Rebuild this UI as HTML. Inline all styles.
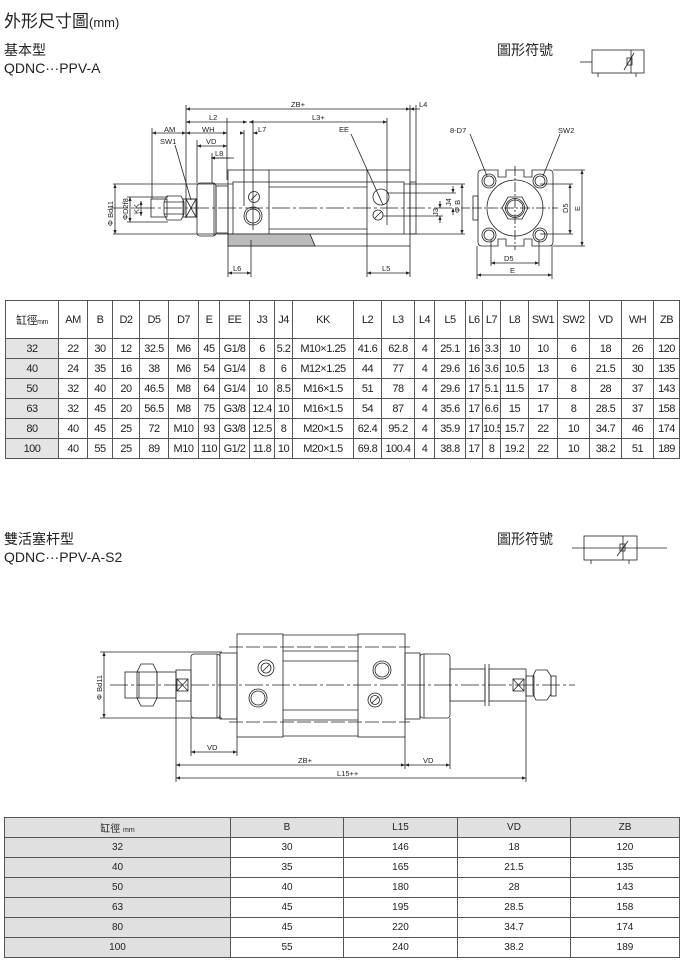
<!DOCTYPE html>
<html><head><meta charset="utf-8">
<style>
html,body{margin:0;padding:0;background:#fff;}
body{width:684px;height:962px;position:relative;overflow:hidden;font-family:"Liberation Sans","Noto Sans CJK TC",sans-serif;color:#222;}
.t{position:absolute;white-space:nowrap;}
table{position:absolute;border-collapse:collapse;font-size:11px;table-layout:fixed;}
td{border:1px solid #555;text-align:center;padding:0;color:#222;overflow:hidden;white-space:nowrap;}
#t1{left:5px;top:300px;width:674px;letter-spacing:-0.5px;}
#t1 td{height:19px;}
#t1 tr.h td{height:37px;}
#t1 td.c{background:#e4e4e4;}
#t2{left:4px;top:817px;width:675px;font-size:10px;}
#t2 td{height:19px;}
#t2 tr.h td{background:#e0e0e0;}
#t2 td.c{background:#e0e0e0;}
svg{position:absolute;left:0;top:0;}
</style></head><body>
<div class="t" style="left:4px;top:7px;font-size:17px;">外形尺寸圖<span style="font-size:13px">(mm)</span></div>
<div class="t" style="left:4px;top:40px;font-size:14px;">基本型</div>
<div class="t" style="left:4px;top:60px;font-size:14px;">QDNC···PPV-A</div>
<div class="t" style="left:497px;top:40px;font-size:14px;">圖形符號</div>
<div class="t" style="left:4px;top:529px;font-size:14px;">雙活塞杆型</div>
<div class="t" style="left:4px;top:549px;font-size:14px;">QDNC···PPV-A-S2</div>
<div class="t" style="left:497px;top:529px;font-size:14px;">圖形符號</div>

<svg width="684" height="962" viewBox="0 0 684 962" font-family="Liberation Sans, sans-serif" font-size="7" fill="none" stroke="#222" stroke-width="0.8">
<defs><marker id="a" markerWidth="6" markerHeight="6" refX="5" refY="3" orient="auto-start-reverse"><path d="M0,1 L5,3 L0,5" fill="#222" stroke="none"/></marker></defs>
<rect x="592" y="50" width="52" height="23"/><line x1="580" y1="62" x2="592" y2="62"/><line x1="631" y1="50" x2="631" y2="73"/>
<line x1="598" y1="73" x2="598" y2="77"/><line x1="636" y1="73" x2="636" y2="77"/>
<rect x="627" y="58" width="5" height="7"/><line x1="624" y1="70" x2="634" y2="53"/>
<rect x="584" y="536" width="53" height="24"/><line x1="572" y1="548" x2="667" y2="548"/><line x1="623" y1="536" x2="623" y2="560"/>
<line x1="591" y1="560" x2="591" y2="564"/><line x1="629" y1="560" x2="629" y2="564"/>
<rect x="620" y="544" width="5" height="7"/><line x1="617" y1="556" x2="628" y2="541"/>

<line x1="110" y1="208" x2="470" y2="208" stroke-dasharray="18,3,3,3"/>
<rect x="151" y="199" width="16" height="18"/><rect x="183" y="199" width="14" height="18"/>
<path d="M167,196 L181,196 L184,202 L184,214 L181,220 L167,220 L164,214 L164,202Z"/>
<line x1="164" y1="202" x2="184" y2="202"/><line x1="164" y1="214" x2="184" y2="214"/>
<rect x="186" y="199" width="10" height="18"/><line x1="186" y1="199" x2="196" y2="217"/><line x1="196" y1="199" x2="186" y2="217"/>
<rect x="197" y="183" width="19" height="53" rx="3"/><line x1="214" y1="183" x2="214" y2="236"/>
<rect x="216" y="186" width="12" height="47"/>
<rect x="228" y="170" width="41" height="76"/><rect x="367" y="170" width="43" height="76"/>
<line x1="269" y1="170" x2="367" y2="170"/><line x1="269" y1="246" x2="367" y2="246"/>
<rect x="233" y="182" width="171" height="52"/>
<line x1="269" y1="187" x2="367" y2="187"/><line x1="269" y1="229" x2="367" y2="229"/>
<rect x="410" y="182" width="6" height="52"/>
<path d="M228,234 L310,234 L315,246 L228,246Z" fill="#bbb"/>
<circle cx="253" cy="216" r="9"/><circle cx="253" cy="216" r="7"/>
<circle cx="254" cy="197" r="5.5"/><line x1="251" y1="200" x2="257" y2="194"/>
<circle cx="381" cy="197" r="8"/><circle cx="378" cy="215" r="5"/><line x1="375" y1="218" x2="381" y2="212"/>
<line x1="253" y1="120" x2="253" y2="230"/><line x1="244" y1="130" x2="244" y2="206"/>
<line x1="387" y1="118" x2="387" y2="225"/><line x1="410" y1="105" x2="410" y2="170"/><line x1="416" y1="105" x2="416" y2="182"/>
<line x1="186" y1="105" x2="186" y2="218"/><line x1="152" y1="128" x2="152" y2="199"/><line x1="227" y1="118" x2="227" y2="180"/>
<line x1="197" y1="140" x2="197" y2="183"/><line x1="212" y1="153" x2="212" y2="183"/>
<g marker-start="url(#a)" marker-end="url(#a)">
<line x1="186" y1="109" x2="410" y2="109"/><line x1="186" y1="122" x2="247" y2="122"/><line x1="249" y1="122" x2="387" y2="122"/>
<line x1="152" y1="133" x2="186" y2="133"/><line x1="186" y1="133" x2="227" y2="133"/>
<line x1="197" y1="146" x2="227" y2="146"/>
<line x1="228" y1="273" x2="251" y2="273"/><line x1="367" y1="273" x2="410" y2="273"/>
<line x1="115" y1="184" x2="115" y2="234"/><line x1="130" y1="197" x2="130" y2="222"/><line x1="141" y1="201" x2="141" y2="216"/>
<line x1="462" y1="184" x2="462" y2="234"/>
<line x1="491" y1="263" x2="539" y2="263"/><line x1="477" y1="275" x2="552" y2="275"/>
<line x1="570" y1="184" x2="570" y2="234"/><line x1="582" y1="170" x2="582" y2="246"/>
</g>
<line x1="420" y1="109" x2="410" y2="109" marker-end="url(#a)"/><line x1="230" y1="158" x2="211" y2="158" marker-end="url(#a)"/><line x1="212" y1="158" x2="234" y2="158"/>
<line x1="240" y1="133" x2="244" y2="133" marker-end="url(#a)"/><line x1="258" y1="133" x2="253" y2="133" marker-end="url(#a)"/>
<line x1="113" y1="184" x2="233" y2="184"/><line x1="113" y1="234" x2="233" y2="234"/>
<line x1="127" y1="197" x2="168" y2="197"/><line x1="127" y1="222" x2="168" y2="222"/>
<line x1="404" y1="184" x2="465" y2="184"/><line x1="404" y1="234" x2="465" y2="234"/>
<line x1="387" y1="193" x2="456" y2="193"/><line x1="383" y1="216" x2="443" y2="216"/>
<line x1="453" y1="186" x2="453" y2="193" marker-end="url(#a)"/><line x1="453" y1="215" x2="453" y2="208" marker-end="url(#a)"/>
<line x1="440" y1="201" x2="440" y2="208" marker-end="url(#a)"/><line x1="440" y1="223" x2="440" y2="216" marker-end="url(#a)"/>
<line x1="228" y1="246" x2="228" y2="277"/><line x1="251" y1="240" x2="251" y2="277"/><line x1="367" y1="246" x2="367" y2="277"/><line x1="410" y1="246" x2="410" y2="277"/>
<line x1="175" y1="145" x2="191" y2="200"/><line x1="351" y1="134" x2="383" y2="205"/>
<path d="M478,174 Q478,170 482,170 L498,170 L498,177 L506,177 L506,170 L524,170 L524,177 L532,177 L532,170 L549,170 Q553,170 553,174 L553,242 Q553,246 549,246 L532,246 L532,239 L524,239 L524,246 L506,246 L506,239 L498,239 L498,246 L482,246 Q478,246 478,242Z"/>
<circle cx="489" cy="181" r="7"/><circle cx="489" cy="181" r="5"/><circle cx="540" cy="181" r="7"/><circle cx="540" cy="181" r="5"/>
<circle cx="489" cy="235" r="7"/><circle cx="489" cy="235" r="5"/><circle cx="540" cy="235" r="7"/><circle cx="540" cy="235" r="5"/>
<circle cx="515" cy="208" r="28"/>
<path d="M502,208 L508,197 L522,197 L528,208 L522,219 L508,219Z"/><circle cx="515" cy="208" r="8"/><circle cx="515" cy="208" r="9.5"/>
<line x1="515" y1="166" x2="515" y2="250" stroke-dasharray="10,2,2,2"/><line x1="472" y1="208" x2="558" y2="208" stroke-dasharray="10,2,2,2"/>
<rect x="473" y="196" width="5" height="24"/>
<line x1="477" y1="246" x2="477" y2="279"/><line x1="552" y1="246" x2="552" y2="279"/>
<line x1="491" y1="240" x2="491" y2="266"/><line x1="539" y1="240" x2="539" y2="266"/>
<line x1="540" y1="184" x2="573" y2="184"/><line x1="540" y1="234" x2="573" y2="234"/>
<line x1="553" y1="170" x2="585" y2="170"/><line x1="553" y1="246" x2="585" y2="246"/>
<line x1="470" y1="134" x2="487" y2="176"/><line x1="560" y1="134" x2="543" y2="176"/>
<g fill="#222" stroke="none" font-size="7.5">
<text x="291" y="107">ZB+</text><text x="419" y="107">L4</text><text x="209" y="120">L2</text><text x="312" y="120">L3+</text>
<text x="164" y="132">AM</text><text x="202" y="132">WH</text><text x="258" y="132">L7</text><text x="160" y="144">SW1</text>
<text x="206" y="144">VD</text><text x="215" y="156">L8</text><text x="339" y="132">EE</text>
<text x="233" y="271">L6</text><text x="382" y="271">L5</text><text x="504" y="261">D5</text><text x="510" y="273">E</text>
<text x="450" y="133">8-D7</text><text x="558" y="133">SW2</text>
<text transform="translate(113,226) rotate(-90)">Φ Bd11</text><text transform="translate(128,220) rotate(-90)">ΦD2f8</text>
<text transform="translate(139,214) rotate(-90)">KK</text><text transform="translate(460,213) rotate(-90)">Φ B</text>
<text transform="translate(451,206) rotate(-90)">J4</text><text transform="translate(438,216) rotate(-90)">J3</text>
<text transform="translate(568,213) rotate(-90)">D5</text><text transform="translate(580,211) rotate(-90)">E</text>
</g>

<line x1="110" y1="685" x2="575" y2="685" stroke-dasharray="18,3,3,3"/>
<line x1="229" y1="647" x2="410" y2="647" stroke-dasharray="14,3"/><line x1="229" y1="722" x2="410" y2="722" stroke-dasharray="14,3"/>
<rect x="125" y="672" width="14" height="26"/><path d="M141,664 L153,664 L157,672 L157,698 L153,706 L141,706 L137,698 L137,672Z"/>
<line x1="137" y1="672" x2="157" y2="672"/><line x1="137" y1="698" x2="157" y2="698"/>
<rect x="157" y="672" width="19" height="26"/>
<rect x="176" y="670" width="15" height="31"/><rect x="177" y="679" width="11" height="12"/><line x1="177" y1="679" x2="188" y2="691"/><line x1="188" y1="679" x2="177" y2="691"/>
<rect x="191" y="654" width="29" height="64" rx="3"/><line x1="217" y1="654" x2="217" y2="718"/><rect x="220" y="653" width="17" height="66"/>
<rect x="237" y="634" width="46" height="103"/><rect x="358" y="634" width="47" height="103"/>
<line x1="283" y1="635" x2="358" y2="635"/><line x1="283" y1="736" x2="358" y2="736"/>
<line x1="283" y1="651" x2="358" y2="651"/><line x1="283" y1="661" x2="358" y2="661"/><line x1="283" y1="710" x2="358" y2="710"/><line x1="283" y1="720" x2="358" y2="720"/>
<rect x="405" y="653" width="15" height="66"/><rect x="420" y="654" width="30" height="64" rx="3"/><line x1="424" y1="654" x2="424" y2="718"/>
<rect x="450" y="669" width="35" height="32"/><rect x="489" y="669" width="37" height="32"/>
<line x1="485" y1="664" x2="485" y2="706"/><line x1="489" y1="664" x2="489" y2="706"/>
<rect x="513" y="679" width="11" height="12"/><line x1="513" y1="679" x2="524" y2="691"/><line x1="524" y1="679" x2="513" y2="691"/>
<rect x="526" y="676" width="8" height="20"/><path d="M536,670 L547,670 L551,676 L551,694 L547,700 L536,700 L533,694 L533,676Z"/><rect x="551" y="676" width="5" height="20"/>
<circle cx="266" cy="668" r="8"/><circle cx="266" cy="668" r="5"/><line x1="263" y1="671" x2="269" y2="665"/>
<circle cx="258" cy="698" r="9"/><circle cx="258" cy="698" r="7"/>
<circle cx="382" cy="670" r="9"/><circle cx="382" cy="670" r="7"/>
<circle cx="375" cy="700" r="7"/><circle cx="375" cy="700" r="4.5"/><line x1="372" y1="703" x2="378" y2="697"/>
<line x1="104" y1="652" x2="104" y2="718" marker-start="url(#a)" marker-end="url(#a)"/>
<line x1="100" y1="652" x2="222" y2="652"/><line x1="100" y1="718" x2="222" y2="718"/>
<g marker-start="url(#a)" marker-end="url(#a)">
<line x1="191" y1="752" x2="237" y2="752"/><line x1="176" y1="765" x2="405" y2="765"/><line x1="405" y1="765" x2="450" y2="765"/><line x1="176" y1="778" x2="526" y2="778"/>
</g>
<line x1="191" y1="718" x2="191" y2="756"/><line x1="237" y1="737" x2="237" y2="756"/><line x1="176" y1="701" x2="176" y2="782"/>
<line x1="405" y1="737" x2="405" y2="769"/><line x1="450" y1="718" x2="450" y2="769"/><line x1="526" y1="701" x2="526" y2="782"/>
<g fill="#222" stroke="none" font-size="7.5">
<text x="207" y="750">VD</text><text x="298" y="763">ZB+</text><text x="423" y="763">VD</text><text x="337" y="776">L15++</text>
<text transform="translate(102,700) rotate(-90)">Φ Bd11</text>
</g>
</svg>

<table id="t1">
<colgroup><col style="width:53px"><col style="width:29px"><col style="width:25px"><col style="width:27px"><col style="width:29px"><col style="width:30px"><col style="width:21px"><col style="width:30px"><col style="width:25px"><col style="width:18px"><col style="width:61px"><col style="width:28px"><col style="width:33px"><col style="width:20px"><col style="width:31px"><col style="width:17px"><col style="width:18px"><col style="width:28px"><col style="width:29px"><col style="width:32px"><col style="width:32px"><col style="width:32px"><col style="width:26px"></colgroup>
<tr class="h"><td>缸徑<span style="font-size:7px">mm</span></td><td>AM</td><td>B</td><td>D2</td><td>D5</td><td>D7</td><td>E</td><td>EE</td><td>J3</td><td>J4</td><td>KK</td><td>L2</td><td>L3</td><td>L4</td><td>L5</td><td>L6</td><td>L7</td><td>L8</td><td>SW1</td><td>SW2</td><td>VD</td><td>WH</td><td>ZB</td></tr>
<tr><td class="c">32</td><td>22</td><td>30</td><td>12</td><td>32.5</td><td>M6</td><td>45</td><td>G1/8</td><td>6</td><td>5.2</td><td>M10×1.25</td><td>41.6</td><td>62.8</td><td>4</td><td>25.1</td><td>16</td><td>3.3</td><td>10</td><td>10</td><td>6</td><td>18</td><td>26</td><td>120</td></tr>
<tr><td class="c">40</td><td>24</td><td>35</td><td>16</td><td>38</td><td>M6</td><td>54</td><td>G1/4</td><td>8</td><td>6</td><td>M12×1.25</td><td>44</td><td>77</td><td>4</td><td>29.6</td><td>16</td><td>3.6</td><td>10.5</td><td>13</td><td>6</td><td>21.5</td><td>30</td><td>135</td></tr>
<tr><td class="c">50</td><td>32</td><td>40</td><td>20</td><td>46.5</td><td>M8</td><td>64</td><td>G1/4</td><td>10</td><td>8.5</td><td>M16×1.5</td><td>51</td><td>78</td><td>4</td><td>29.6</td><td>17</td><td>5.1</td><td>11.5</td><td>17</td><td>8</td><td>28</td><td>37</td><td>143</td></tr>
<tr><td class="c">63</td><td>32</td><td>45</td><td>20</td><td>56.5</td><td>M8</td><td>75</td><td>G3/8</td><td>12.4</td><td>10</td><td>M16×1.5</td><td>54</td><td>87</td><td>4</td><td>35.6</td><td>17</td><td>6.6</td><td>15</td><td>17</td><td>8</td><td>28.5</td><td>37</td><td>158</td></tr>
<tr><td class="c">80</td><td>40</td><td>45</td><td>25</td><td>72</td><td>M10</td><td>93</td><td>G3/8</td><td>12.5</td><td>8</td><td>M20×1.5</td><td>62.4</td><td>95.2</td><td>4</td><td>35.9</td><td>17</td><td>10.5</td><td>15.7</td><td>22</td><td>10</td><td>34.7</td><td>46</td><td>174</td></tr>
<tr><td class="c">100</td><td>40</td><td>55</td><td>25</td><td>89</td><td>M10</td><td>110</td><td>G1/2</td><td>11.8</td><td>10</td><td>M20×1.5</td><td>69.8</td><td>100.4</td><td>4</td><td>38.8</td><td>17</td><td>8</td><td>19.2</td><td>22</td><td>10</td><td>38.2</td><td>51</td><td>189</td></tr>
</table>

<table id="t2">
<colgroup><col style="width:226px"><col style="width:113px"><col style="width:114px"><col style="width:113px"><col style="width:109px"></colgroup>
<tr class="h"><td>缸徑 <span style="font-size:7px">mm</span></td><td>B</td><td>L15</td><td>VD</td><td>ZB</td></tr>
<tr><td class="c">32</td><td>30</td><td>146</td><td>18</td><td>120</td></tr>
<tr><td class="c">40</td><td>35</td><td>165</td><td>21.5</td><td>135</td></tr>
<tr><td class="c">50</td><td>40</td><td>180</td><td>28</td><td>143</td></tr>
<tr><td class="c">63</td><td>45</td><td>195</td><td>28.5</td><td>158</td></tr>
<tr><td class="c">80</td><td>45</td><td>220</td><td>34.7</td><td>174</td></tr>
<tr><td class="c">100</td><td>55</td><td>240</td><td>38.2</td><td>189</td></tr>
</table>
</body></html>
